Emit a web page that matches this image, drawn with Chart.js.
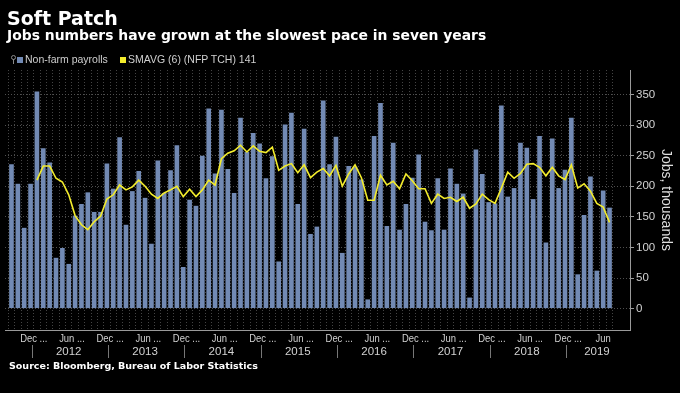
<!DOCTYPE html>
<html>
<head>
<meta charset="utf-8">
<script src="https://cdn.jsdelivr.net/npm/chart.js@4/dist/chart.umd.min.js"></script>
<style>
  html, body { margin: 0; padding: 0; background: #000; }
  #wrap { position: relative; width: 680px; height: 393px; overflow: hidden; background: #000; }
  #grafico { position: absolute; left: 0; top: 0; }
  .titulo { position: absolute; left: 7px; top: 9px; font: bold 19px/19px "DejaVu Sans", sans-serif; color: #fff; white-space: nowrap; }
  .subtitulo { position: absolute; left: 7px; top: 29px; font: bold 13.9px/13.9px "DejaVu Sans", sans-serif; color: #fff; white-space: nowrap; }
  .legenda { position: absolute; left: 0; top: 54.4px; font: 10.5px/10.5px "Liberation Sans", Arial, sans-serif; color: #cfcfcf; white-space: nowrap; }
  .legenda span { position: absolute; top: 0; }
  .legenda i { position: absolute; width: 6px; height: 6px; top: 2.5px; }
  .pin { position: absolute; left: 11px; top: 1px; width: 3px; height: 3px; border: 1px solid #8a8a8a; border-radius: 50%; }
  .pin-haste { position: absolute; left: 12.5px; top: 5px; width: 1px; height: 5px; background: #8a8a8a; }
  .fonte { position: absolute; left: 9px; top: 360.7px; font: bold 9.5px/9.5px "DejaVu Sans", sans-serif; color: #fff; white-space: nowrap; }
</style>
</head>
<body>
<div id="wrap">
  <canvas id="grafico" width="680" height="393"></canvas>
  <div class="titulo">Soft Patch</div>
  <div class="subtitulo">Jobs numbers have grown at the slowest pace in seven years</div>
  <div class="legenda">
    <div class="pin"></div><div class="pin-haste"></div>
    <i style="left:17px;background:#728ab4"></i><span style="left:25px">Non-farm payrolls</span>
    <i style="left:119.5px;background:#f3ec2c"></i><span style="left:128px">SMAVG (6) (NFP TCH) 141</span>
  </div>
  <div class="fonte">Source: Bloomberg, Bureau of Labor Statistics</div>
</div>
<script>
// meses, de Sep 2011 a Jul 2019
const meses = [
  'Sep 2011', 'Oct 2011', 'Nov 2011', 'Dec 2011',
  'Jan 2012', 'Feb 2012', 'Mar 2012', 'Apr 2012', 'May 2012', 'Jun 2012', 'Jul 2012', 'Aug 2012', 'Sep 2012', 'Oct 2012', 'Nov 2012', 'Dec 2012',
  'Jan 2013', 'Feb 2013', 'Mar 2013', 'Apr 2013', 'May 2013', 'Jun 2013', 'Jul 2013', 'Aug 2013', 'Sep 2013', 'Oct 2013', 'Nov 2013', 'Dec 2013',
  'Jan 2014', 'Feb 2014', 'Mar 2014', 'Apr 2014', 'May 2014', 'Jun 2014', 'Jul 2014', 'Aug 2014', 'Sep 2014', 'Oct 2014', 'Nov 2014', 'Dec 2014',
  'Jan 2015', 'Feb 2015', 'Mar 2015', 'Apr 2015', 'May 2015', 'Jun 2015', 'Jul 2015', 'Aug 2015', 'Sep 2015', 'Oct 2015', 'Nov 2015', 'Dec 2015',
  'Jan 2016', 'Feb 2016', 'Mar 2016', 'Apr 2016', 'May 2016', 'Jun 2016', 'Jul 2016', 'Aug 2016', 'Sep 2016', 'Oct 2016', 'Nov 2016', 'Dec 2016',
  'Jan 2017', 'Feb 2017', 'Mar 2017', 'Apr 2017', 'May 2017', 'Jun 2017', 'Jul 2017', 'Aug 2017', 'Sep 2017', 'Oct 2017', 'Nov 2017', 'Dec 2017',
  'Jan 2018', 'Feb 2018', 'Mar 2018', 'Apr 2018', 'May 2018', 'Jun 2018', 'Jul 2018', 'Aug 2018', 'Sep 2018', 'Oct 2018', 'Nov 2018', 'Dec 2018',
  'Jan 2019', 'Feb 2019', 'Mar 2019', 'Apr 2019', 'May 2019', 'Jun 2019', 'Jul 2019'
];

// variacao mensal (milhares)
const payrolls = [
  236, 204, 132, 204,
  355, 262, 239, 83, 99, 73, 152, 171, 190, 158, 158, 237,
  196, 280, 137, 192, 225, 181, 106, 242, 189, 226, 267, 68,
  178, 168, 250, 327, 221, 325, 228, 189, 312, 256, 287, 270,
  213, 249, 77, 301, 320, 171, 294, 122, 134, 340, 236, 281,
  91, 233, 232, 211, 15, 282, 336, 135, 271, 129, 171, 214,
  252, 142, 128, 213, 129, 229, 204, 188, 18, 260, 220, 174,
  172, 332, 183, 197, 271, 263, 179, 282, 108, 278, 197, 227,
  312, 56, 153, 216, 62, 193, 165
];

// media movel de 6 meses
const smavg6 = [
  null, null, null, null,
  210, 233, 233, 213, 207, 186, 152, 137, 129, 142, 151, 179,
  186, 202, 194, 199, 210, 200, 187, 180, 189, 194, 200, 183,
  195, 183, 194, 210, 202, 245, 254, 258, 267, 256, 266, 257,
  255, 264, 226, 233, 237, 222, 235, 214, 223, 229, 217, 234,
  200, 220, 235, 214, 177, 177, 218, 202, 208, 196, 220, 209,
  196, 196, 172, 187, 180, 182, 175, 182, 164, 171, 187, 178,
  172, 197, 223, 213, 221, 236, 237, 231, 217, 231, 217, 211,
  235, 197, 204, 192, 172, 166, 141
];

const mesesRotulo = ['Jun', 'Dec'];
const anos = ['2012', '2013', '2014', '2015', '2016', '2017', '2018', '2019'];
const yTicks = [0, 50, 100, 150, 200, 250, 300, 350];

const rotulosX = {
  id: 'rotulosX',
  afterDraw(chart) {
    const { ctx, chartArea } = chart;
    const x = chart.scales.x;
    ctx.save();
    ctx.fillStyle = '#d2d2d2';
    ctx.textBaseline = 'middle';
    ctx.font = '11.5px "Liberation Sans", Arial, sans-serif';

    // Dec ... / Jun ...
    meses.forEach((m, i) => {
      const nome = m.slice(0, 3);
      if (!mesesRotulo.includes(nome)) return;
      const ultimo = i + 6 >= meses.length;
      const texto = ultimo ? nome : nome + ' ...';
      const w = ctx.measureText(nome).width * 0.82;
      const px = x.getPixelForValue(i) - (ultimo ? 0 : 2);
      ctx.save();
      ctx.translate(px - w / 2, 339);
      ctx.scale(0.82, 1);
      ctx.textAlign = 'left';
      ctx.fillText(texto, 0, 0);
      ctx.restore();
    });

    // separadores de ano e anos
    const seps = [];
    meses.forEach((m, i) => { if (m.startsWith('Dec')) seps.push(x.getPixelForValue(i + 0.15)); });
    ctx.strokeStyle = '#777';
    ctx.lineWidth = 1;
    seps.forEach(s => {
      ctx.beginPath();
      ctx.moveTo(Math.round(s) + 0.5, 345);
      ctx.lineTo(Math.round(s) + 0.5, 358);
      ctx.stroke();
    });
    ctx.textAlign = 'center';
    anos.forEach((a, k) => {
      const ini = seps[k];
      const fim = k + 1 < seps.length ? seps[k + 1] : chartArea.right;
      ctx.fillText(a, (ini + fim) / 2 - 1, 352);
    });
    ctx.restore();
  }
};

const ctx = document.getElementById('grafico').getContext('2d');
new Chart(ctx, {
  data: {
    datasets: [
      {
        type: 'line',
        label: 'SMAVG (6) (NFP TCH) 141',
        data: smavg6.map((v, i) => ({ x: i, y: v })),
        borderColor: '#f3ec2c',
        borderWidth: 1.6,
        pointRadius: 0,
        tension: 0,
        order: 0
      },
      {
        type: 'bar',
        label: 'Non-farm payrolls',
        data: payrolls.map((v, i) => ({ x: i, y: v })),
        backgroundColor: '#728ab4',
        barPercentage: 0.73,
        categoryPercentage: 1,
        order: 1
      }
    ]
  },
  options: {
    responsive: false,
    animation: false,
    devicePixelRatio: 1,
    layout: { padding: { top: 70, left: 5, right: 0, bottom: 0 } },
    plugins: {
      legend: { display: false },
      tooltip: { enabled: false }
    },
    scales: {
      x: {
        type: 'linear',
        min: -0.5,
        max: 96.7,
        afterBuildTicks: s => { s.ticks = meses.map((m, i) => ({ value: i })); },
        afterFit: s => { s.height = 63; },
        ticks: { display: false },
        grid: { color: '#444', drawTicks: false },
        border: { color: '#9a9a9a', dash: [1, 2] }
      },
      y: {
        position: 'right',
        min: -35,
        max: 390,
        afterBuildTicks: s => { s.ticks = yTicks.map(v => ({ value: v })); },
        afterFit: s => { s.width = 50; },
        ticks: {
          color: '#d2d2d2',
          padding: 2,
          font: { family: '"Liberation Sans", Arial, sans-serif', size: 11.5 }
        },
        grid: { color: '#505050', tickLength: 4, tickColor: '#9a9a9a' },
        border: { color: '#9a9a9a', dash: [1, 2] },
        title: {
          display: true,
          text: 'Jobs, thousands',
          color: '#dedede',
          padding: { top: 6, bottom: 0 },
          font: { family: '"Liberation Sans", Arial, sans-serif', size: 14 }
        }
      }
    }
  },
  plugins: [rotulosX]
});
</script>
</body>
</html>
